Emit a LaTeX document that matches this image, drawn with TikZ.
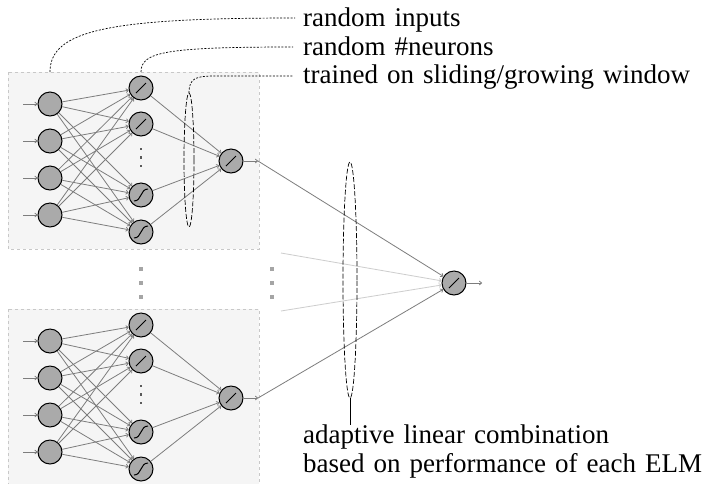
\documentclass[tikz,border=0pt]{standalone}
\usepackage{fontspec}
\setmainfont{Liberation Serif}
\usetikzlibrary{arrows.meta}
\definecolor{edgec}{RGB}{125,125,125}
\definecolor{lightc}{RGB}{205,205,205}
\definecolor{nodec}{RGB}{170,170,170}
\definecolor{boxfill}{RGB}{245,245,245}
\definecolor{boxline}{RGB}{200,200,200}
\definecolor{dotc}{RGB}{165,165,165}
\definecolor{smalldot}{RGB}{90,90,90}
\newcommand{\mylblfont}{\fontsize{27}{28}\selectfont\spaceskip=9pt plus 2pt minus 1pt\relax}
\begin{document}
\begin{tikzpicture}[x=1pt,y=-1pt,
  neuron/.style={circle, draw=black, line width=1pt, fill=nodec, minimum size=24pt, inner sep=0pt},
  linn/.style={neuron, path picture={\draw[line width=1pt] ([shift={(-5pt,-5pt)}]path picture bounding box.center) -- ([shift={(5pt,5pt)}]path picture bounding box.center);}},
  sigm/.style={neuron, path picture={\draw[line width=1pt] ([shift={(-7pt,-6pt)}]path picture bounding box.center) .. controls ([shift={(1pt,-6pt)}]path picture bounding box.center) and ([shift={(-1pt,6pt)}]path picture bounding box.center) .. ([shift={(7pt,6pt)}]path picture bounding box.center);}},
  conn/.style={draw=edgec, line width=0.8pt, -{To[length=3pt,width=4.5pt]}},
  lightconn/.style={draw=lightc, line width=0.8pt, -{To[length=3pt,width=4.5pt]}},
  blockbox/.style={draw=boxline, fill=boxfill, dashed, line width=0.6pt},
  dashline/.style={draw=black, line width=0.7pt, dash pattern=on 2pt off 1.5pt},
  ringdash/.style={draw=black, line width=0.7pt, dash pattern=on 5pt off 2pt},
  lbl/.style={anchor=base west, inner sep=0pt, font=\mylblfont},
  sqbig/.style={fill=dotc, draw=none, minimum size=4pt, inner sep=0pt},
  sqsmall/.style={fill=smalldot, draw=none, minimum size=2.5pt, inner sep=0pt}
]
\useasboundingbox (0,0) rectangle (711,483);
\fill[white] (0,0) rectangle (711,483);

\foreach \b/\dy in {1/0,2/237}{
  \begin{scope}[shift={(0,\dy)}]
    \path[blockbox] (8,72) rectangle (259,249);
    \foreach \k/\yy in {1/104,2/141,3/178,4/215}{
      \node[neuron] (i\b\k) at (50,\yy) {};
      \coordinate (s\b\k) at (23,\yy);
    }
    \node[linn] (h\b1) at (141,88) {};
    \node[linn] (h\b2) at (141,124) {};
    \node[sigm] (h\b3) at (141,195) {};
    \node[sigm] (h\b4) at (141,232) {};
    \node[sqsmall] (d\b1) at (141,149) {};
    \node[sqsmall] (d\b2) at (141,157.5) {};
    \node[sqsmall] (d\b3) at (141,166) {};
    \node[linn] (o\b) at (231,161) {};
    \coordinate (e\b) at (258,161);
  \end{scope}
  \foreach \k in {1,2,3,4}{
    \draw[conn] (s\b\k) -- (i\b\k);
    \foreach \j in {1,2,3,4}{
      \draw[conn] (i\b\k) -- (h\b\j);
    }
    \draw[conn] (h\b\k) -- (o\b);
  }
  \draw[conn] (o\b) -- (e\b);
}

% dots between blocks
\foreach \n/\yy in {1/269,2/283,3/297}{
  \node[sqbig] (ma\n) at (141,\yy) {};
  \node[sqbig] (mb\n) at (272,\yy) {};
}

% final node
\node[linn] (f) at (454,283) {};
\coordinate (fo) at (482,283);
\coordinate (g1) at (281,253);
\coordinate (g2) at (281,311);
\draw[lightconn] (g1) -- (f);
\draw[lightconn] (g2) -- (f);
\draw[conn] (e1) -- (f);
\draw[conn] (e2) -- (f);
\draw[conn] (f) -- (fo);

% ellipses
\draw[ringdash] (189,160) ellipse [x radius=5pt, y radius=67pt];
\draw[ringdash] (350,280) ellipse [x radius=7pt, y radius=118pt];
\coordinate (eb) at (350,398);
\coordinate (ebt) at (350,425);
\draw[black, line width=0.8pt] (eb) -- (ebt);

% annotation curves
\coordinate (c1) at (50,72);
\coordinate (c2) at (141,72);
\coordinate (c3) at (189,93);
\coordinate (l1) at (295,18);
\coordinate (l2) at (293,47);
\coordinate (l3) at (293,76);
\coordinate (m3) at (215,76);
\draw[dashline] (c1) .. controls (50,30) and (110,18) .. (l1);
\draw[dashline] (c2) .. controls (141,52) and (165,47) .. (l2);
\draw[dashline] (c3) .. controls (189,78) and (196,76) .. (m3) -- (l3);

% labels
\node[lbl] (t1) at (303,26) {random inputs};
\node[lbl] (t2) at (303,55) {random \#neurons};
\node[lbl] (t3) at (303,83) {trained on sliding/growing window};
\node[lbl] (t4) at (303,443) {adaptive linear combination};
\node[lbl] (t5) at (303,472) {based on performance of each ELM};
\end{tikzpicture}
\end{document}
